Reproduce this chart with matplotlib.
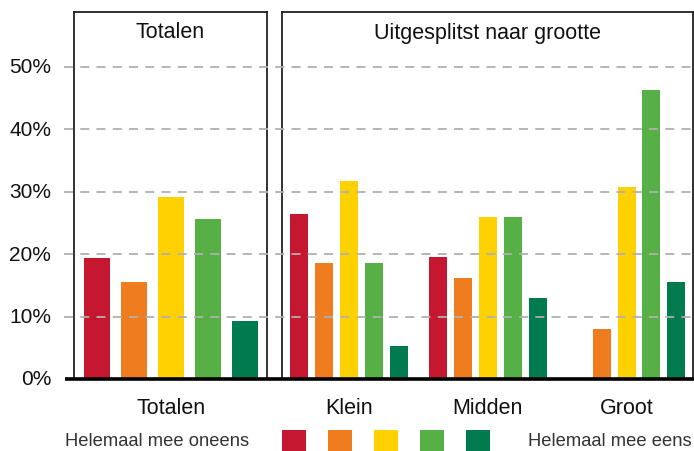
import matplotlib
matplotlib.use("Agg")
import matplotlib.pyplot as plt
import matplotlib.transforms as mtransforms
from matplotlib.patches import Rectangle
from matplotlib.lines import Line2D

plt.rcParams['font.family'] = ['Liberation Sans', 'DejaVu Sans']

# ---- data ----
answers = ["Helemaal mee oneens", "Oneens", "Neutraal", "Eens", "Helemaal mee eens"]
colors = ["#c5172f", "#ef7d1f", "#ffd100", "#56b046", "#007b4f"]
totalen = [19.3, 15.6, 29.1, 25.6, 9.3]
groups = ["Klein", "Midden", "Groot"]
klein = [26.4, 18.6, 31.7, 18.6, 5.3]
midden = [19.5, 16.1, 26.0, 26.0, 12.9]
groot = [0.0, 8.0, 30.8, 46.2, 15.5]
yticks = [0, 10, 20, 30, 40, 50]
ytick_labels = ["0%", "10%", "20%", "30%", "40%", "50%"]
panel_titles = ["Totalen", "Uitgesplitst naar grootte"]

W, H = 694, 452
fig = plt.figure(figsize=(W / 100, H / 100), dpi=100)

def fx(px):
    return px / W

def fy(py):
    return 1 - py / H

y0, ytop = 380, 13
ymax = 58.75

axL = fig.add_axes([fx(74), fy(y0), fx(267) - fx(74), fy(ytop) - fy(y0)])
axR = fig.add_axes([fx(282), fy(y0), fx(693) - fx(282), fy(ytop) - fy(y0)])

# left panel
xs = list(range(5))
axL.bar(xs, totalen, width=0.70, color=colors, zorder=3)
axL.set_xlim(-0.62, 4.59)

# right panel
gstep = 5.55
for gi, vals in enumerate([klein, midden, groot]):
    pos = [gi * gstep + i for i in range(5)]
    axR.bar(pos, vals, width=0.72, color=colors, zorder=3)
axR.set_xlim(-0.68, 15.76)

for ax, title in zip([axL, axR], panel_titles):
    ax.set_ylim(0, ymax)
    ax.set_xticks([])
    ax.set_yticks([])
    ax.patch.set_alpha(0)
    for s in ax.spines.values():
        s.set_color("#222222")
        s.set_linewidth(1.3)
    ax.spines['bottom'].set_visible(False)
    ax.text(0.5, 1 - 20 / 367, title, transform=ax.transAxes, ha="center",
            va="center", fontsize=15.5, color="#111111")

# gridlines & baseline across the full width (figure x, data y)
tr = mtransforms.blended_transform_factory(fig.transFigure, axL.transData)
for v in yticks[1:]:
    fig.add_artist(Line2D([fx(64), fx(694)], [v, v], transform=tr, color="#b0b0b0",
                          lw=1.3, ls=(0, (5, 4)), zorder=1))
fig.add_artist(Line2D([fx(65), fx(694)], [0, 0], transform=tr, color="#000000",
                      lw=2.6, zorder=5, solid_capstyle="butt"))

# y tick labels
for v, lab in zip(yticks, ytick_labels):
    fig.text(fx(51), v, lab, transform=tr, ha="right", va="center",
             fontsize=15, color="#111111")

# category labels
trL = mtransforms.blended_transform_factory(axL.transData, fig.transFigure)
trR = mtransforms.blended_transform_factory(axR.transData, fig.transFigure)
fig.text(2, fy(409), "Totalen", transform=trL, ha="center", va="center",
         fontsize=15.5, color="#111111")
for gi, g in enumerate(groups):
    fig.text(gi * gstep + 2, fy(409), g, transform=trR, ha="center", va="center",
             fontsize=15.5, color="#111111")

# legend
fig.text(fx(65), fy(442), answers[0], ha="left", va="center", fontsize=13.2, color="#333333")
fig.text(fx(692), fy(442), answers[-1], ha="right", va="center", fontsize=13.2, color="#333333")
for i, c in enumerate(colors):
    fig.add_artist(Rectangle((fx(282 + 46 * i), fy(455)), fx(24), fy(431) - fy(455),
                             transform=fig.transFigure, color=c, lw=0))

fig.savefig("out.png", dpi=100)
